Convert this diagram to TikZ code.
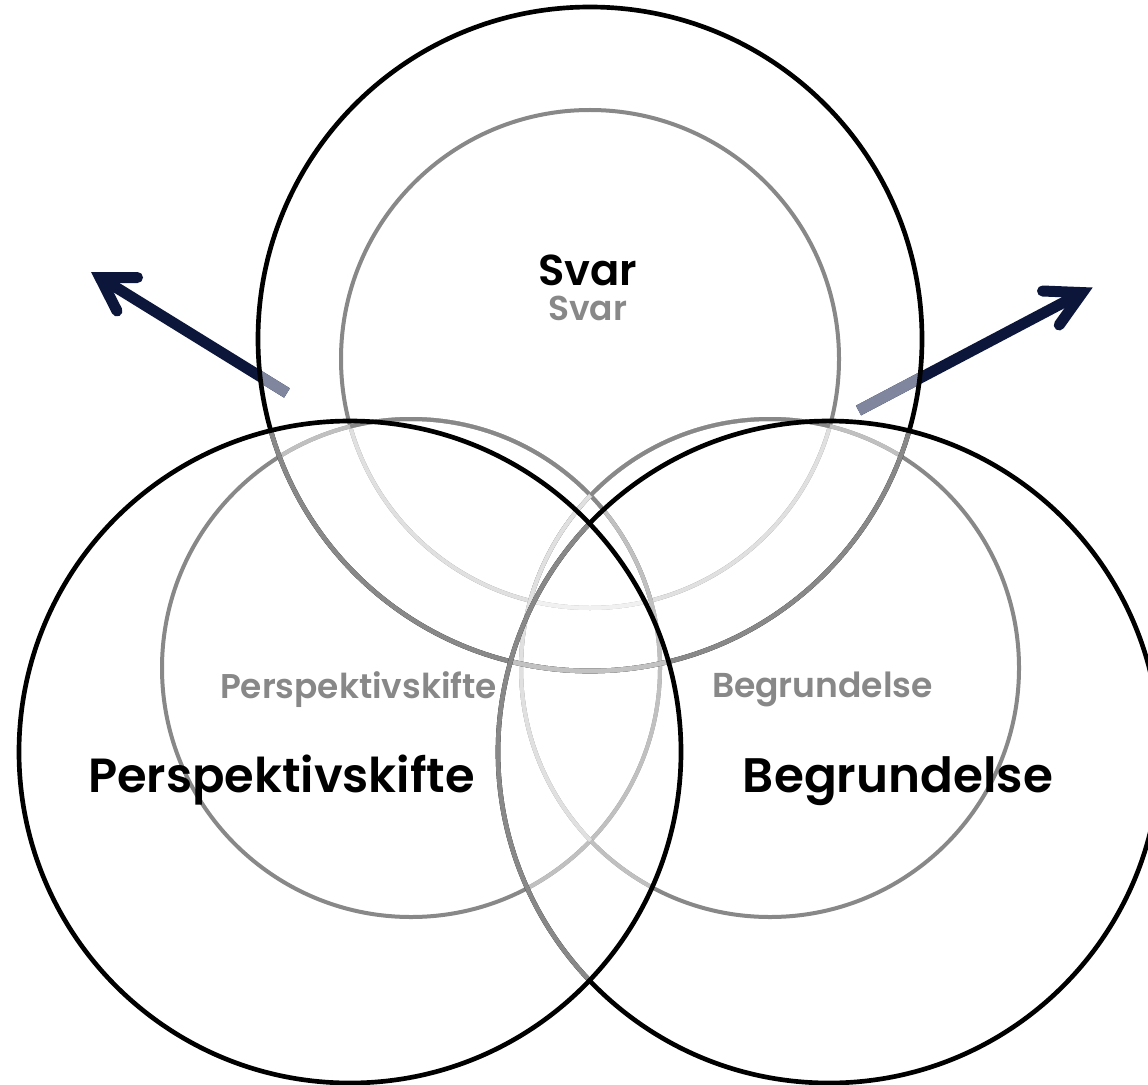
\documentclass[tikz,border=0pt]{standalone}
\usepackage{fontspec}
\usepackage{graphicx}
\newfontfamily\labfont{Poppins SemiBold}
\definecolor{navy}{RGB}{12,22,58}
\definecolor{navylt}{RGB}{128,134,158}
\definecolor{kone}{HTML}{888888}
\definecolor{ktwo}{HTML}{C2C2C2}
\definecolor{gzero}{HTML}{888888}
\definecolor{gone}{HTML}{C0C0C0}
\definecolor{gtwo}{HTML}{E0E0E0}
\definecolor{gthree}{HTML}{F1F1F1}
\newcommand\pTB{(590,339) circle[radius=249pt]}
\newcommand\pTI{(590,359) circle[radius=186.75pt]}
\newcommand\pLB{(350,752) circle[radius=248.25pt]}
\newcommand\pLI{(411,668) circle[radius=186.75pt]}
\newcommand\pRB{(829,752) circle[radius=248.25pt]}
\newcommand\pRI{(770,668) circle[radius=186.75pt]}
\begin{document}
\begin{tikzpicture}[x=0.75pt,y=-0.75pt,
  bk/.style={line width=3.5pt},
  gr/.style={line width=3pt},
  arr/.style={line width=8.25pt},
  lab/.style={inner sep=0pt, anchor=base}]
\clip (0,0) rectangle (1148,1084);
\fill[white] (0,0) rectangle (1148,1084);
% ---------- grey inner circles ----------
\draw[gr,gzero] \pTI;
\begin{scope}\clip \pLI; \draw[gr,gtwo] \pTI; \end{scope}
\begin{scope}\clip \pRI; \draw[gr,gtwo] \pTI; \end{scope}
\begin{scope}\clip \pLI; \clip \pRI; \draw[gr,gthree] \pTI; \end{scope}
\draw[gr,gzero] \pLI;
\begin{scope}\clip \pTB; \draw[gr,gone] \pLI; \end{scope}
\begin{scope}\clip \pTI; \draw[gr,gzero] \pLI; \end{scope}
\begin{scope}\clip \pRB; \draw[gr,gone] \pLI; \end{scope}
\draw[gr,gzero] \pRI;
\begin{scope}\clip \pTB; \draw[gr,gone] \pRI; \end{scope}
\begin{scope}\clip \pTI; \draw[gr,gzero] \pRI; \end{scope}
\begin{scope}\clip \pLB; \draw[gr,gone] \pRI; \end{scope}
\begin{scope}\clip \pLI; \draw[gr,gtwo] \pRI; \end{scope}
% ---------- arrows ----------
\coordinate (la0) at (287,393);
\coordinate (la1) at (100,277.5);
\coordinate (la2) at (137.5,277.5);
\coordinate (la3) at (117,311);
\coordinate (ra0) at (858.5,410.5);
\coordinate (ra1) at (1082.3,292.6);
\coordinate (ra2) at (1042.5,291);
\coordinate (ra3) at (1059.2,325);
\draw[arr,navy] (la0) -- (la1);
\draw[arr,navy,line cap=round,line join=miter,miter limit=10] (la2) -- (la1) -- (la3);
\draw[arr,navy] (ra0) -- (ra1);
\draw[arr,navy,line cap=round,line join=miter,miter limit=10] (ra2) -- (ra1) -- (ra3);
\begin{scope}\clip \pTB;
  \draw[arr,navylt] (la0) -- (la1);
  \draw[arr,navylt] (ra0) -- (ra1);
\end{scope}
% ---------- black big circles ----------
\draw[bk,black] \pTB;
\begin{scope}\clip \pLB; \draw[bk,kone] \pTB; \end{scope}
\begin{scope}\clip \pRB; \draw[bk,kone] \pTB; \end{scope}
\begin{scope}\clip \pLB; \clip \pRB; \draw[bk,ktwo] \pTB; \end{scope}
\draw[bk,black] \pRB;
\begin{scope}\clip \pLB; \draw[bk,kone] \pRB; \end{scope}
\draw[bk,black] \pLB;
% ---------- labels ----------
\node[lab,text=black] (svar) at (587.5,285) {\resizebox{74.25pt}{!}{\labfont Svar}};
\node[lab,text=gzero] (svarg) at (587.5,320) {\resizebox{59.25pt}{!}{\labfont Svar}};
\node[lab,text=black] (persp) at (281.5,792) {\resizebox{290.25pt}{!}{\labfont Perspektivskifte}};
\node[lab,text=gzero] (perspg) at (358.5,698) {\resizebox{207.75pt}{!}{\labfont Perspektivskifte}};
\node[lab,text=black] (begr) at (898,792) {\resizebox{232.5pt}{!}{\labfont Begrundelse}};
\node[lab,text=gzero] (begrg) at (822.5,697) {\resizebox{165.75pt}{!}{\labfont Begrundelse}};
\end{tikzpicture}
\end{document}
